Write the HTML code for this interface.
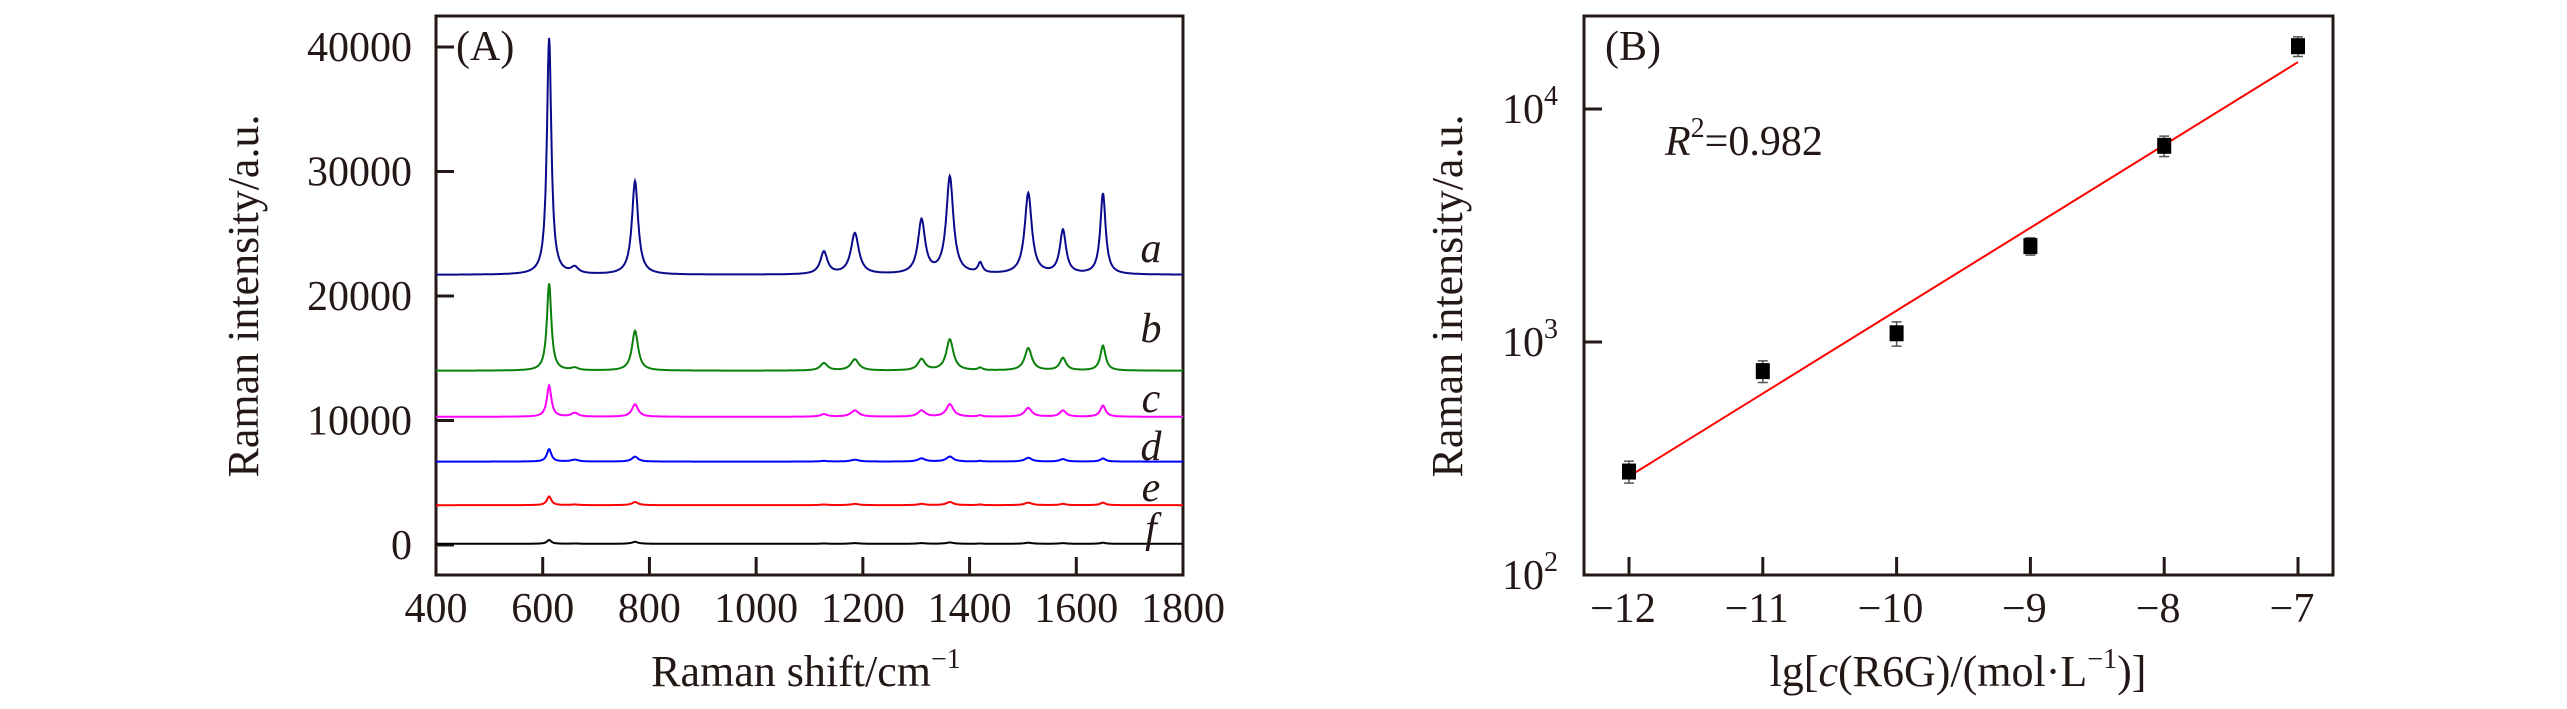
<!DOCTYPE html>
<html><head><meta charset="utf-8"><style>
html,body{margin:0;padding:0;background:#fff;}
svg{display:block;font-family:"Liberation Serif",serif;}
</style></head><body>
<svg id="chart" width="2567" height="709" viewBox="0 0 2567 709" xmlns="http://www.w3.org/2000/svg">
<rect x="0" y="0" width="2567" height="709" fill="#fff"/>
<g id="pa"></g>
<g id="pb"></g>
</svg>
<script>
// Panel A data
const xTicksA = [400,600,800,1000,1200,1400,1600,1800];
const yTicksA = [0,10000,20000,30000,40000];
const seriesNames = ['a','b','c','d','e','f'];
const seriesColors = ['#0a0a8c','#0a800a','#ff00ff','#0000ff','#ff0000','#000000'];
const baselines = [21700,14000,10300,6700,3200,100];
const peakPositions = [612,660,773,1127,1185,1310,1363,1420,1510,1575,1650];
const peakHeightsA = [19000,500,7500,1800,3300,4300,7800,800,6500,3500,6500];
const peakHeightsB = [7000,200,3200,600,900,900,2500,200,1800,1000,2000];
const peakHeightsC = [2500,300,1000,200,500,500,1000,100,700,500,900];
const peakHeightsD = [1000,150,400,50,150,250,400,50,300,200,250];
const peakHeightsE = [700,50,250,50,100,100,250,50,200,100,200];
const peakHeightsF = [300,20,150,20,50,50,100,20,80,50,80];
// Panel B data
const concX = [-12,-11,-10,-9,-8,-7];
const intensity = [278,750,1090,2580,6950,18600];
const errBar = [30,80,130,220,700,1800];
const fitLine = [265,15900];
const xTicksB = [-12,-11,-10,-9,-8,-7];
const yTicksB = [2,3,4];

const NS='http://www.w3.org/2000/svg';
function mk(parent,tag,attrs,text){const e=document.createElementNS(NS,tag);for(const k in attrs)e.setAttribute(k,attrs[k]);if(text!==undefined)e.textContent=text;parent.appendChild(e);return e;}

// ---- Panel A
const pa=document.getElementById('pa');
const AL=436,AR=1183,AT=16,AB=575;
const xA=v=>AL+(v-400)/1400*(AR-AL);
const yA=v=>545-v/40000*(545-47);
mk(pa,'rect',{x:AL,y:AT,width:AR-AL,height:AB-AT,fill:'none',stroke:'#231815','stroke-width':3,});
xTicksA.forEach(t=>{
  if(t>400&&t<1800){const l=mk(pa,'line',{x1:xA(t),x2:xA(t),y1:AB,y2:AB-18,stroke:'#231815','stroke-width':3});
  
  }
  const tx=mk(pa,'text',{x:xA(t),y:622,'font-size':42,'text-anchor':'middle',fill:'#231815'},String(t));
  
  
});
yTicksA.forEach(t=>{
  const l=mk(pa,'line',{x1:AL,x2:AL+18,y1:yA(t),y2:yA(t),stroke:'#231815','stroke-width':3});
  
  
  const tx=mk(pa,'text',{x:412,y:yA(t)+14,'font-size':42,'text-anchor':'end',fill:'#231815'},String(t));
  
  
});
const heights=[peakHeightsA,peakHeightsB,peakHeightsC,peakHeightsD,peakHeightsE,peakHeightsF];
const widths=[5,8,7,8,9,8,8,5,8,7,6];
heights.forEach((h,si)=>{
  let d='';
  for(let w=400;w<=1800;w+=1){
    let v=baselines[si];
    peakPositions.forEach((p,i)=>{const g=widths[i];v+=h[i]*g*g/((w-p)*(w-p)+g*g);});
    d+=(w===400?'M':'L')+xA(w).toFixed(1)+','+yA(v).toFixed(1);
  }
  const p=mk(pa,'path',{d:d,fill:'none',stroke:seriesColors[si],'stroke-width':2});
  
  
});
const labY=[250,330,400,448,489,530];
seriesNames.forEach((n,i)=>{
  const t=mk(pa,'text',{x:1151,y:labY[i]+12,'font-size':42,'font-style':'italic','text-anchor':'middle',fill:'#231815'},n);
  
  
});
let t=mk(pa,'text',{x:456,y:60,'font-size':42,fill:'#231815'},'(A)');


t=mk(pa,'text',{x:806,y:686,'font-size':44,'text-anchor':'middle',fill:'#231815'},'Raman shift/cm');


mk(t,'tspan',{dy:-18,'font-size':28},'−1');
t=mk(pa,'text',{x:0,y:0,'font-size':44,'text-anchor':'middle',fill:'#231815',transform:'translate(258,296) rotate(-90)'},'Raman intensity/a.u.');



// ---- Panel B
const pb=document.getElementById('pb');
const BL=1584,BR=2333,BT=16,BB=575;
const xB=v=>1629+(v+12)*(2298-1629)/5;
const yB=v=>575-(Math.log10(v)-2)*233;
mk(pb,'rect',{x:BL,y:BT,width:BR-BL,height:BB-BT,fill:'none',stroke:'#231815','stroke-width':3,});
xTicksB.forEach(v=>{
  const l=mk(pb,'line',{x1:xB(v),x2:xB(v),y1:BB,y2:BB-18,stroke:'#231815','stroke-width':3});
  
  
  const tx=mk(pb,'text',{x:xB(v)-6,y:622,'font-size':42,'text-anchor':'middle',fill:'#231815'},'−'+Math.abs(v));
  
  
});
yTicksB.forEach(e=>{
  const y=yB(Math.pow(10,e));
  if(e>2){const l=mk(pb,'line',{x1:BL,x2:BL+18,y1:y,y2:y,stroke:'#231815','stroke-width':3});
  
  }
  const tx=mk(pb,'text',{x:1502,y:y+14,'font-size':42,fill:'#231815'},'10');
  
  
  mk(tx,'tspan',{dy:-18,'font-size':28},String(e));
});
const fl=mk(pb,'line',{x1:xB(concX[0]),y1:yB(fitLine[0]),x2:xB(concX[5]),y2:yB(fitLine[1]),stroke:'#ff0000','stroke-width':2});


concX.forEach((c,i)=>{
  const x=xB(c),y1=yB(intensity[i]+errBar[i]),y2=yB(intensity[i]-errBar[i]);
  const g=mk(pb,'g',{});
  
  
  mk(g,'line',{x1:x,x2:x,y1:y1,y2:y2,stroke:'#555','stroke-width':1.5});
  mk(g,'line',{x1:x-5,x2:x+5,y1:y1,y2:y1,stroke:'#555','stroke-width':1.5});
  mk(g,'line',{x1:x-5,x2:x+5,y1:y2,y2:y2,stroke:'#555','stroke-width':1.5});
  const yc=yB(intensity[i]);
  mk(g,'rect',{x:x-7,y:yc-8,width:14,height:16,fill:'#000'});
});
t=mk(pb,'text',{x:1605,y:60,'font-size':42,fill:'#231815'},'(B)');


t=mk(pb,'text',{x:1665,y:155,'font-size':42,fill:'#231815'},'');


mk(t,'tspan',{'font-style':'italic'},'R');
mk(t,'tspan',{dy:-18,'font-size':28},'2');
mk(t,'tspan',{dy:18},'=0.982');
t=mk(pb,'text',{x:1958,y:686,'font-size':44,'text-anchor':'middle',fill:'#231815'},'lg[');


mk(t,'tspan',{'font-style':'italic'},'c');
mk(t,'tspan',{},'(R6G)/(mol·L');
mk(t,'tspan',{dy:-18,'font-size':28},'−1');
mk(t,'tspan',{dy:18},')]');
t=mk(pb,'text',{x:0,y:0,'font-size':44,'text-anchor':'middle',fill:'#231815',transform:'translate(1462,296) rotate(-90)'},'Raman intensity/a.u.');


</script>
</body></html>
